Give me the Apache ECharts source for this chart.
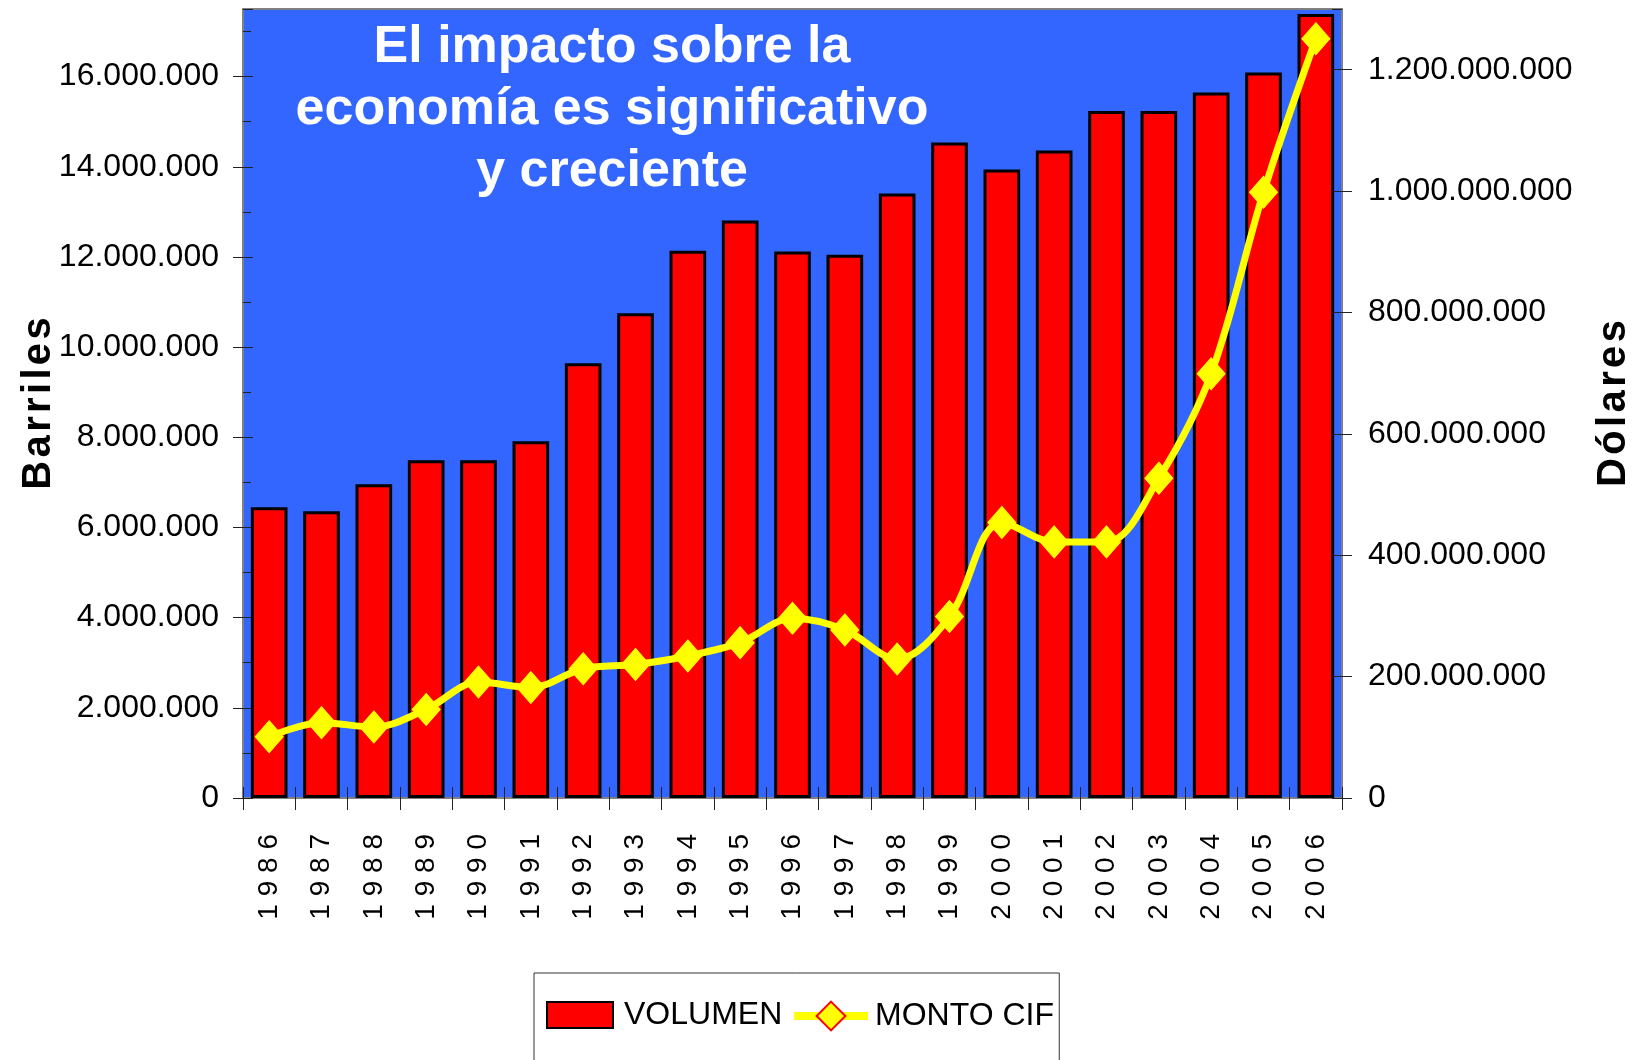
<!DOCTYPE html>
<html>
<head>
<meta charset="utf-8">
<script src="https://cdn.jsdelivr.net/npm/echarts@6/dist/echarts.min.js"></script>
<style>
html,body{margin:0;padding:0;background:#fff;}
#chart{width:1636px;height:1060px;}
</style>
</head>
<body>
<div id="chart"></div>
<script>
const years = ['1986','1987','1988','1989','1990','1991','1992','1993','1994','1995','1996','1997','1998','1999','2000','2001','2002','2003','2004','2005','2006'];
const volumen = [6450000,6360000,6960000,7490000,7490000,7910000,9640000,10750000,12140000,12810000,12120000,12050000,13410000,14540000,13940000,14360000,15240000,15240000,15650000,16090000,17390000];
const montoCif = [101000000,124000000,117000000,146000000,191000000,182000000,213000000,220000000,234000000,256000000,296000000,277000000,229000000,299000000,454000000,422000000,422000000,527000000,699000000,998000000,1251000000];
const titleLines = ['El impacto sobre la','economía es significativo','y creciente'];
const leftAxisName = 'Barriles';
const rightAxisName = 'Dólares';

const FONT = "'Liberation Sans',Arial,sans-serif";
function fmt(v){ return String(Math.round(v)).replace(/\B(?=(\d{3})+(?!\d))/g,'.'); }
function spaced(s){ return s.split('').join('\u200A'); }

const LEFT_SCALE = {type:'value',min:0,max:17500000,interval:2000000};
const RIGHT_SCALE = {type:'value',min:0,max:1300000000,interval:200000000};
const TICK_STYLE = {color:'#222',width:1};

const chart = echarts.init(document.getElementById('chart'), null, {renderer:'canvas'});
chart.setOption({
  animation:false,
  backgroundColor:'#ffffff',
  title:{
    text: titleLines.join('\n'),
    left: 607, top: 12, textAlign:'center',
    textStyle:{color:'#ffffff',fontSize:52,fontWeight:'bold',fontFamily:FONT,lineHeight:62}
  },
  grid:{left:243,right:294,top:9,bottom:262,containLabel:false,outerBoundsMode:'none',
        show:true,backgroundColor:'#3366FF',borderColor:'#808080',borderWidth:2},
  legend:[
    {
      left:534, top:973,
      padding:[26,277,60,12],
      borderColor:'#333',borderWidth:1,
      itemWidth:66,itemHeight:26,itemGap:13,
      textStyle:{fontFamily:FONT,fontSize:32,color:'#000',padding:[0,0,0,6]},
      data:[{name:'VOLUMEN',icon:'rect'}]
    },
    {
      left:790, top:979,
      padding:[21,0,0,0],
      itemWidth:74,itemHeight:36,
      textStyle:{fontFamily:FONT,fontSize:32,color:'#000',padding:[0,0,0,2]},
      data:[{name:'MONTO CIF',itemStyle:{color:'#FFFF00',borderColor:'#FF0000',borderWidth:2},lineStyle:{color:'#FFFF00',width:8}}]
    }
  ],
  xAxis:[
    {
      type:'category',data:years,boundaryGap:true,
      axisLine:{lineStyle:{color:'#808080',width:2}},
      axisTick:{show:true,alignWithLabel:false,length:12,lineStyle:TICK_STYLE},
      axisLabel:{interval:0,rotate:90,margin:36,fontFamily:FONT,fontSize:28,color:'#000',
        formatter:v=>v.split('').join(' ')}
    },
    {
      type:'category',data:years,boundaryGap:true,position:'bottom',
      axisLine:{show:false},axisLabel:{show:false},
      axisTick:{show:true,inside:true,length:11,lineStyle:TICK_STYLE}
    }
  ],
  yAxis:[
    Object.assign({},LEFT_SCALE,{position:'left',
     name:spaced(leftAxisName),nameLocation:'middle',nameRotate:90,nameGap:184,nameMoveOverlap:false,
     nameTextStyle:{fontFamily:FONT,fontWeight:'bold',fontSize:40,color:'#000'},
     axisLine:{show:true,lineStyle:{color:'#808080',width:2}},
     axisTick:{show:true,length:10,lineStyle:TICK_STYLE},
     splitLine:{show:false},
     axisLabel:{margin:24,showMaxLabel:false,fontFamily:FONT,fontSize:32,color:'#000',formatter:fmt}
    }),
    Object.assign({},RIGHT_SCALE,{position:'right',
     name:spaced(rightAxisName),nameLocation:'middle',nameRotate:90,nameGap:252,nameMoveOverlap:false,
     nameTextStyle:{fontFamily:FONT,fontWeight:'bold',fontSize:40,color:'#000'},
     axisLine:{show:true,lineStyle:{color:'#808080',width:2}},
     axisTick:{show:true,length:10,lineStyle:TICK_STYLE},
     splitLine:{show:false},
     axisLabel:{margin:26,showMaxLabel:false,fontFamily:FONT,fontSize:32,color:'#000',formatter:fmt}
    }),
    Object.assign({},LEFT_SCALE,{position:'left',
     axisLine:{show:false},axisLabel:{show:false},splitLine:{show:false},
     axisTick:{show:true,inside:true,length:10,lineStyle:TICK_STYLE},
     minorTick:{show:true,splitNumber:2,length:8,lineStyle:TICK_STYLE}
    }),
    Object.assign({},RIGHT_SCALE,{position:'right',
     axisLine:{show:false},axisLabel:{show:false},splitLine:{show:false},
     axisTick:{show:true,inside:true,length:10,lineStyle:TICK_STYLE}
    })
  ],
  series:[
    {name:'VOLUMEN',type:'bar',xAxisIndex:0,yAxisIndex:0,data:volumen,barCategoryGap:'30%',
     itemStyle:{color:'#FF0000',borderColor:'#000000',borderWidth:3}},
    {name:'MONTO CIF',type:'line',xAxisIndex:0,yAxisIndex:1,data:montoCif,smooth:0.35,z:5,
     symbol:'diamond',symbolSize:[28,32],showAllSymbol:true,
     lineStyle:{color:'#FFFF00',width:7},
     itemStyle:{color:'#FFFF00',borderColor:'#FFFF00',borderWidth:1}}
  ]
});
</script>
</body>
</html>
